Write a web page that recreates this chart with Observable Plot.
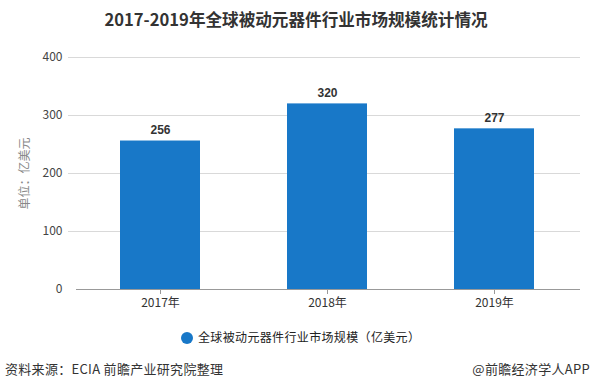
<!DOCTYPE html>
<html><head><meta charset="utf-8">
<script src="https://cdn.jsdelivr.net/npm/d3@7"></script>
<script src="https://cdn.jsdelivr.net/npm/@observablehq/plot@0.6"></script>
<style>
body{margin:0;background:#fff;font-family:"Noto Sans CJK SC","Microsoft YaHei",sans-serif;}
#wrap{position:relative;width:592px;height:391px;overflow:hidden;}
#wrap svg{position:absolute;left:0;top:0;}
.t{position:absolute;white-space:nowrap;}
</style></head>
<body><div id="wrap">
<div class="t" id="title" style="left:0;width:592px;top:7px;text-align:center;font-size:16.6px;font-weight:bold;color:#333;">2017-2019年全球被动元器件行业市场规模统计情况</div>
<div class="t" id="legend" style="left:181px;top:328px;font-size:12px;color:#222;line-height:18px;letter-spacing:0.35px;"><span style="display:inline-block;width:12px;height:12px;border-radius:6px;background:#1878c8;vertical-align:-2px;margin-right:5px;"></span>全球被动元器件行业市场规模（亿美元）</div>
<div class="t" style="left:5px;top:359px;font-size:13px;color:#333;letter-spacing:0.3px;">资料来源：ECIA 前瞻产业研究院整理</div>
<div class="t" style="right:2px;top:359px;font-size:13px;color:#333;letter-spacing:0.3px;">@前瞻经济学人APP</div>
</div>
<script>
const years = ["2017年", "2018年", "2019年"];
const values = [256, 320, 277];
const yTicks = [0, 100, 200, 300, 400];
const yLabel = "单位：亿美元";

const data = years.map((y, i) => ({year: y, value: values[i]}));

const chart = Plot.plot({
  width: 592,
  height: 391,
  marginTop: 57,
  marginBottom: 102,
  marginLeft: 76,
  marginRight: 15,
  style: {fontFamily: '"Noto Sans CJK SC","Microsoft YaHei",sans-serif', background: "transparent"},
  x: {domain: years, paddingInner: 0.521, paddingOuter: 0.26},
  y: {domain: [0, 400], ticks: yTicks},
  marks: [
    Plot.ruleY(yTicks.filter(d => d > 0), {y: d => d, stroke: "#d9d9d9", insetLeft: -8, insetRight: -3}),
    Plot.barY(data, {x: "year", y: "value", fill: "#1878c8"}),
    Plot.ruleY([0], {stroke: "#999", insetRight: -3}),
    Plot.axisY({ticks: yTicks, tickSize: 0, tickPadding: 14, label: null, fontSize: 12, color: "#444"}),
    Plot.axisX({tickSize: 5, tickPadding: 4, label: null, fontSize: 12, color: "#333", stroke: "#999"}),
    Plot.text(data, {x: "year", y: "value", text: d => String(d.value), dy: -11, fontWeight: "bold", fontSize: 12, fill: "#333", fontFamily: '"Liberation Sans",Arial,sans-serif'}),
    Plot.text([yLabel], {frameAnchor: "left", textAnchor: "middle", dx: -51, rotate: -90, fontSize: 12, fill: "#888"})
  ]
});
document.getElementById("wrap").prepend(chart);
</script>
</body></html>
